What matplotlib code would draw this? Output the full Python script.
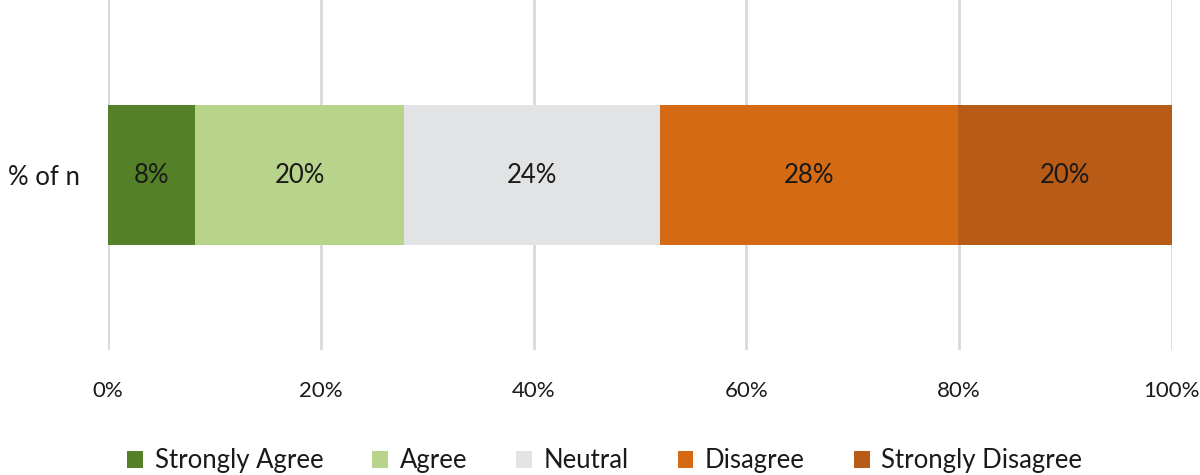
import matplotlib.pyplot as plt

# survey shares (%)
categories = ['Strongly Agree', 'Agree', 'Neutral', 'Disagree', 'Strongly Disagree']
values = [8.2, 19.6, 24.1, 28.0, 20.1]
colors = ['#548127', '#B8D38A', '#E2E3E5', '#D46A14', '#B85B17']
row_label = '% of n'
xticks = [0, 20, 40, 60, 80, 100]

plt.rcParams['font.family'] = ['Lato', 'DejaVu Sans']
fs = 18.5

fig = plt.figure(figsize=(12, 4.75), dpi=100)
ax = fig.add_axes([0.09, 0.263, 0.8865, 0.737])

left = 0
for cat, val, col in zip(categories, values, colors):
    ax.barh([0], [val], left=left, height=0.4, color=col, label=cat, zorder=3)
    ax.text(left + val / 2, 0, f'{round(val)}%', ha='center', va='center',
            fontsize=fs, color='#1a1a1a', zorder=4)
    left += val

ax.set_xlim(0, 100)
ax.set_ylim(-0.5, 0.5)
ax.set_xticks(xticks)
ax.set_xticklabels([f'{t}%' for t in xticks], fontsize=16, color='#1a1a1a')
ax.set_yticks([0])
ax.set_yticklabels([row_label], fontsize=fs, color='#1a1a1a')
ax.tick_params(axis='x', length=0, pad=22)
ax.tick_params(axis='y', length=0, pad=20)
ax.grid(axis='x', color='#D9D9D9', linewidth=2, zorder=0)
for s in ax.spines.values():
    s.set_visible(False)

fig.legend(loc='center', bbox_to_anchor=(0.504, 0.03), ncol=5, frameon=False,
           fontsize=fs, handlelength=0.62, handleheight=0.62, handletextpad=0.45,
           columnspacing=1.9, labelcolor='#1a1a1a')

fig.savefig('out.png', dpi=100)
